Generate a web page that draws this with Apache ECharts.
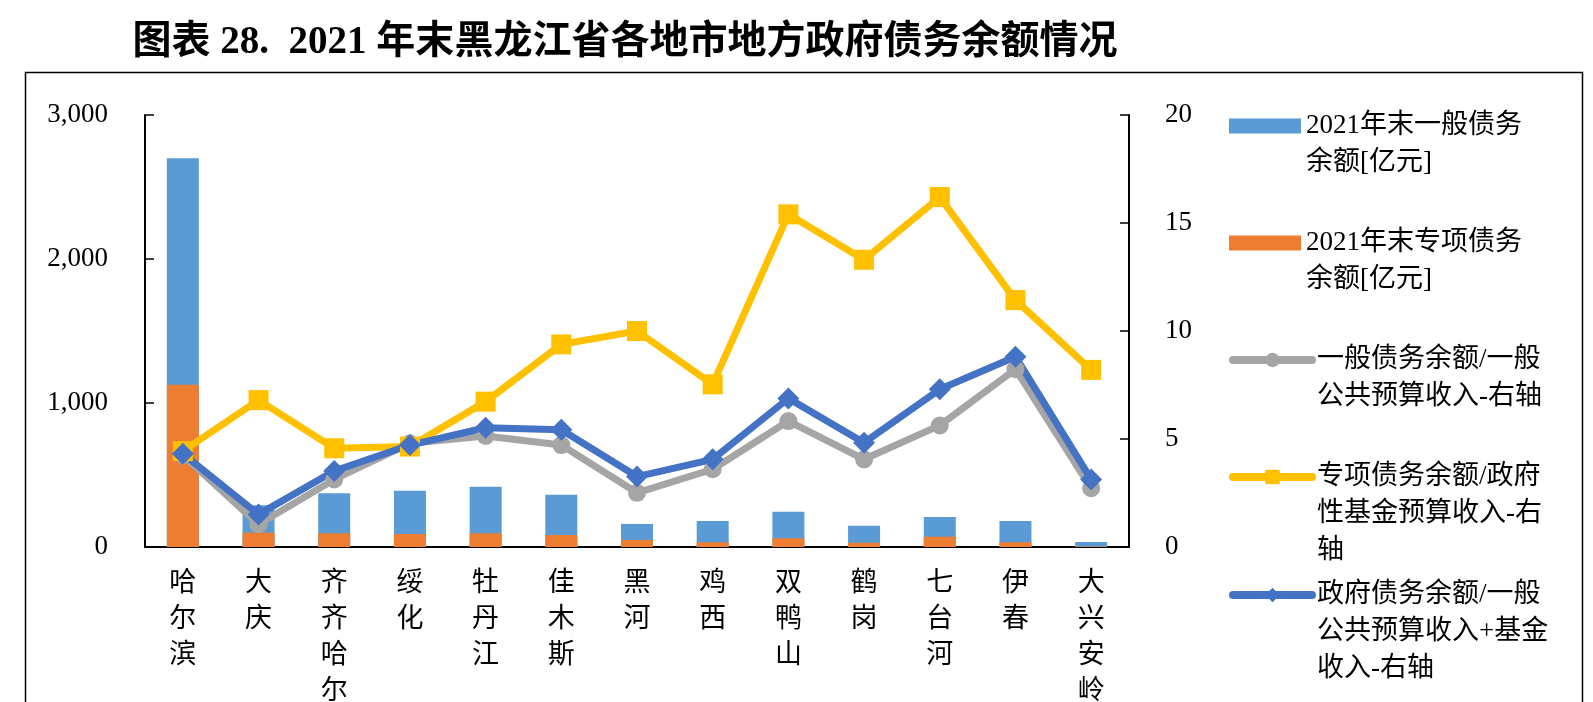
<!DOCTYPE html>
<html>
<head>
<meta charset="utf-8">
<script src="https://cdn.jsdelivr.net/npm/echarts@6/dist/echarts.min.js"></script>
<style>
  html, body { margin: 0; padding: 0; background: #fff; }
  #chart { width: 1593px; height: 702px; }
</style>
</head>
<body>
<div id="chart"></div>
<script>
// 各地市
const cities = ['哈尔滨', '大庆', '齐齐哈尔', '绥化', '牡丹江', '佳木斯', '黑河', '鸡西', '双鸭山', '鹤岗', '七台河', '伊春', '大兴安岭'];
// 左轴：亿元
const generalDebt = [2700, 290, 373, 390, 419, 363, 160, 180, 245, 148, 208, 180, 35];
const specialDebt = [1127, 100, 95, 90, 95, 83, 49, 33, 60, 30, 72, 33, 4];
// 右轴：倍数
const generalRatio = [4.25, 1.05, 3.13, 4.8, 5.14, 4.72, 2.51, 3.6, 5.83, 4.06, 5.63, 8.23, 2.72];
const specialRatio = [4.44, 6.8, 4.57, 4.65, 6.73, 9.38, 10.0, 7.53, 15.4, 13.3, 16.2, 11.43, 8.2];
const totalRatio = [4.32, 1.51, 3.52, 4.72, 5.52, 5.43, 3.26, 4.06, 6.88, 4.83, 7.3, 8.81, 3.13];

const leftTicks = { min: 0, max: 3000, interval: 1000 };
const rightTicks = { min: 0, max: 20, interval: 5 };

const names = [
  '2021年末一般债务余额[亿元]',
  '2021年末专项债务余额[亿元]',
  '一般债务余额/一般公共预算收入-右轴',
  '专项债务余额/政府性基金预算收入-右轴',
  '政府债务余额/一般公共预算收入+基金收入-右轴'
];
// 图例换行
const legendLines = [
  ['2021年末一般债务', '余额[亿元]'],
  ['2021年末专项债务', '余额[亿元]'],
  ['一般债务余额/一般', '公共预算收入-右轴'],
  ['专项债务余额/政府', '性基金预算收入-右', '轴'],
  ['政府债务余额/一般', '公共预算收入+基金', '收入-右轴']
];

const FONT = "'Liberation Serif', 'Noto Sans CJK SC', serif";
const LH = 37;
const firstLineY = [126, 243, 360, 477, 595];

const myChart = echarts.init(document.getElementById('chart'));

const legends = names.map(function (n, i) {
  const lines = legendLines[i];
  const isBar = i < 2;
  // 前面补空行，让图标对齐第一行
  const blanks = new Array(lines.length - 1).fill('');
  return {
    data: [n],
    orient: 'vertical',
    left: 1224,
    top: firstLineY[i] - (lines.length - 1) * LH - LH / 2 - 5,
    selectedMode: false,
    itemWidth: isBar ? 72 : 79,
    itemHeight: isBar ? 15 : 18,
    icon: isBar ? 'rect' : undefined,
    lineStyle: isBar ? undefined : { width: 8, cap: 'round' },
    formatter: function () {
      return blanks.concat(lines).join('\n');
    },
    textStyle: { fontFamily: FONT, fontSize: 27, lineHeight: LH, color: '#000' }
  };
});

const thousands = function (v) {
  return String(v).replace(/\B(?=(\d{3})+(?!\d))/g, ',');
};

const option = {
  backgroundColor: '#fff',
  animation: false,
  title: {
    text: '图表 28.  2021 年末黑龙江省各地市地方政府债务余额情况',
    left: 620,
    textAlign: 'center',
    top: 18,
    textStyle: { fontFamily: FONT, fontSize: 39, fontWeight: 'bold', color: '#000' }
  },
  graphic: [{
    type: 'rect',
    shape: { x: 25.5, y: 72.5, width: 1557, height: 660 },
    style: { fill: 'none', stroke: '#000', lineWidth: 1.5 },
    silent: true
  }],
  legend: legends,
  grid: { left: 145, right: 464, top: 115, bottom: 155, outerBoundsMode: 'none', containLabel: false },
  xAxis: {
    type: 'category',
    data: cities,
    axisLine: { lineStyle: { color: '#000', width: 2 } },
    axisTick: { inside: true, length: 8, lineStyle: { color: '#000', width: 1.5 } },
    axisLabel: {
      interval: 0,
      margin: 19,
      fontFamily: FONT,
      fontSize: 27,
      lineHeight: 36,
      color: '#000',
      formatter: function (v) { return v.split('').join('\n'); }
    }
  },
  yAxis: [{
    type: 'value',
    min: leftTicks.min, max: leftTicks.max, interval: leftTicks.interval,
    splitLine: { show: false },
    axisLine: { show: true, lineStyle: { color: '#000', width: 2 } },
    axisTick: { show: true, inside: true, length: 9, lineStyle: { color: '#000', width: 1.5 } },
    axisLabel: { margin: 37, fontFamily: FONT, fontSize: 27, color: '#000', formatter: thousands }
  }, {
    type: 'value',
    min: rightTicks.min, max: rightTicks.max, interval: rightTicks.interval,
    splitLine: { show: false },
    axisLine: { show: true, lineStyle: { color: '#000', width: 2 } },
    axisTick: { show: true, inside: true, length: 9, lineStyle: { color: '#000', width: 1.5 } },
    axisLabel: { margin: 36, fontFamily: FONT, fontSize: 27, color: '#000' }
  }],
  series: [
    {
      name: names[0], type: 'bar', data: generalDebt, barWidth: 32, barGap: '-100%',
      itemStyle: { color: '#5B9BD5' }
    },
    {
      name: names[1], type: 'bar', data: specialDebt, barWidth: 32, barGap: '-100%',
      itemStyle: { color: '#ED7D31' }
    },
    {
      name: names[2], type: 'line', yAxisIndex: 1, data: generalRatio,
      symbol: 'circle', symbolSize: 18,
      lineStyle: { color: '#A5A5A5', width: 7 }, itemStyle: { color: '#A5A5A5' }
    },
    {
      name: names[3], type: 'line', yAxisIndex: 1, data: specialRatio,
      symbol: 'rect', symbolSize: 20,
      lineStyle: { color: '#FFC000', width: 7 }, itemStyle: { color: '#FFC000' }
    },
    {
      name: names[4], type: 'line', yAxisIndex: 1, data: totalRatio,
      symbol: 'diamond', symbolSize: 22,
      lineStyle: { color: '#4472C4', width: 7 }, itemStyle: { color: '#4472C4' }
    }
  ]
};

myChart.setOption(option);
</script>
</body>
</html>
